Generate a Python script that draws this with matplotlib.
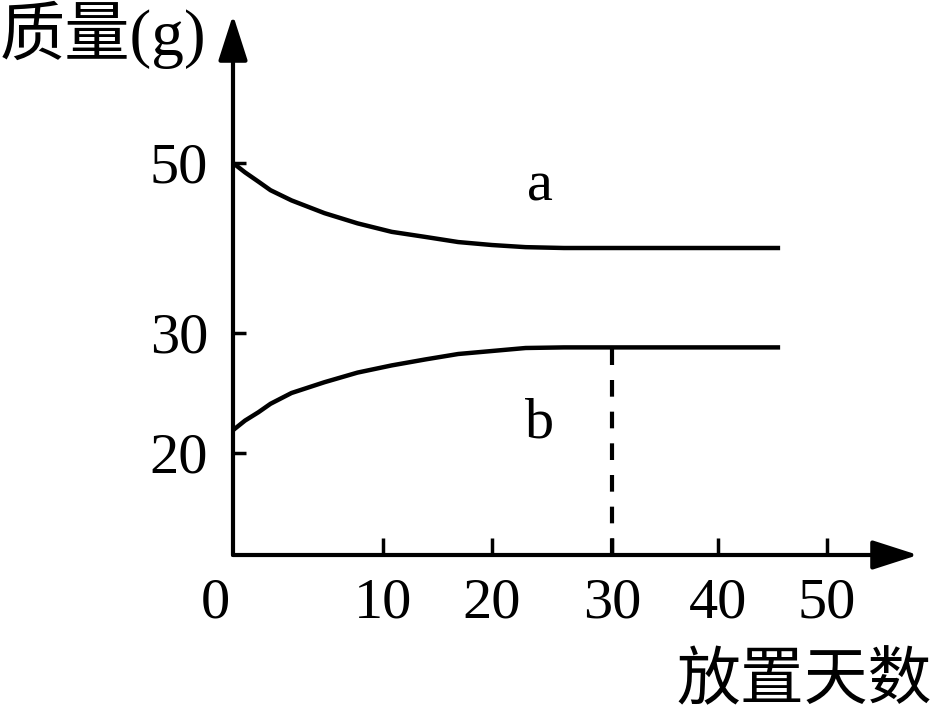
import numpy as np
import matplotlib
matplotlib.use('Agg')
import matplotlib.pyplot as plt

plt.rcParams['font.family'] = ['Liberation Serif', 'Noto Sans CJK SC']

# Data
days = [0, 0.8, 1.7, 2.5, 3.9, 6.1, 8.3, 10.8, 13.9, 16.9, 20, 22.8, 26, 45.7]
mass_a = [50, 48.9, 47.8, 46.8, 45.6, 44.1, 42.9, 41.9, 41.3, 40.7, 40.35, 40.1, 40, 40]
mass_b = [21.9, 22.7, 23.4, 24.1, 25, 25.9, 26.7, 27.3, 27.8, 28.25, 28.5, 28.75, 28.8, 28.8]
day_mark = 30

x_ticks = [10, 20, 30, 40, 50]
x_labels = ['10', '20', '30', '40', '50']
y_ticks = [20, 30, 50]
y_labels = ['20', '30', '50']

# Non-uniform axes of the drawing: data value -> pixel position
x_anchor = [0, 10, 20, 30, 40, 50, 58]
x_px = [233, 383, 492, 612, 718, 827, 918]
y_anchor = [0, 20, 30, 50, 67]
y_px = [555, 453, 333, 163, 15]


def fwd_x(v):
    return np.interp(v, x_anchor, x_px)


def inv_x(p):
    return np.interp(p, x_px, x_anchor)


def fwd_y(v):
    return -np.interp(v, y_anchor, y_px)


def inv_y(p):
    return np.interp(-np.asarray(p), y_px[::-1], y_anchor[::-1])


fig = plt.figure(figsize=(9.33, 7.15), dpi=100)
ax = fig.add_axes([233/933, 160/715, 685/933, 540/715])
ax.set_xscale('function', functions=(fwd_x, inv_x))
ax.set_yscale('function', functions=(fwd_y, inv_y))
ax.set_xlim(x_anchor[0], x_anchor[-1])
ax.set_ylim(y_anchor[0], y_anchor[-1])

for s in ax.spines.values():
    s.set_visible(False)

# axes with arrow heads
arrow = dict(arrowstyle='-|>,head_length=1.4,head_width=0.45', lw=3, color='k',
             mutation_scale=20, shrinkA=0, shrinkB=0)
ax.annotate('', xy=(1, 0), xytext=(0, 0), xycoords='axes fraction', arrowprops=arrow)
ax.annotate('', xy=(0, 1), xytext=(0, 0), xycoords='axes fraction', arrowprops=arrow)

# curves
ax.plot(days, mass_a, color='k', lw=3.2, solid_capstyle='butt', solid_joinstyle='round')
ax.plot(days, mass_b, color='k', lw=3.2, solid_capstyle='butt', solid_joinstyle='round')
ax.plot([day_mark, day_mark], [0, mass_b[-1]], color='k', lw=3, dashes=(4, 3.6))

ax.text(24, 45.6, 'a', fontsize=42, ha='center', va='baseline')
ax.text(24, 21.25, 'b', fontsize=42, ha='center', va='baseline')

ax.set_xticks(x_ticks)
ax.set_xticklabels(x_labels)
ax.set_yticks(y_ticks)
ax.set_yticklabels(y_labels)
ax.minorticks_off()
ax.tick_params(axis='x', direction='in', length=12, width=2.5, pad=16, labelsize=42)
ax.tick_params(axis='y', direction='in', length=9, width=2.5, pad=18, labelsize=42)

ax.annotate('0', xy=(0, 0), xytext=(-13, -16), textcoords='offset points',
            fontsize=42, ha='center', va='top')

fig.text(0 / 933, 1 - 1 / 715, '质量(g)', fontsize=47, ha='left', va='top')
fig.text(932 / 933, 2 / 715, '放置天数', fontsize=46, ha='right', va='bottom')

plt.savefig('out.png', dpi=100)
